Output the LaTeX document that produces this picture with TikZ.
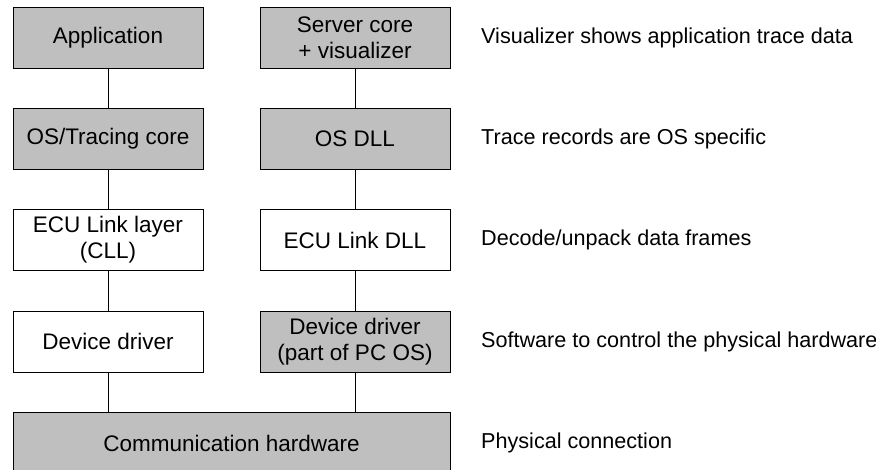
\documentclass[tikz,border=0pt]{standalone}
\usepackage{fontspec}
\setmainfont{Liberation Sans}
\usetikzlibrary{shadows}
\begin{document}
\begin{tikzpicture}[x=1pt,y=-1pt,
  lyr/.style={draw=black, line width=0.8pt, minimum width=190pt, minimum height=61pt,
    inner sep=0pt, align=center, font=\fontsize{22.5}{26}\selectfont,
    drop shadow={shadow xshift=0.9pt, shadow yshift=-0.9pt, fill=black!70, opacity=1}},
  grey/.style={lyr, fill=black!25},
  white/.style={lyr, fill=white},
  note/.style={anchor=west, inner sep=0pt, font=\fontsize{21.6}{26}\selectfont},
  conn/.style={draw=black, line width=0.8pt}]
\useasboundingbox (0,0) rectangle (876,470);
% left column
\node[grey]  (app)  at (108,37.5)  {Application};
\node[grey]  (ostc) at (108,138.5) {OS/Tracing core};
\node[white] (cll)  at (108,240)   {ECU Link layer\\(CLL)};
\node[white] (dd1)  at (108,341.5) {Device driver};
% right column
\node[grey]  (srv)  at (355,37.5)  {Server core\\+ visualizer};
\node[grey]  (osd)  at (355,138.5) {OS DLL};
\node[white] (eld)  at (355,240)   {ECU Link DLL};
\node[grey]  (dd2)  at (355,341.5) {Device driver\\(part of PC OS)};
% bottom
\node[grey, minimum width=437pt, minimum height=62pt] (hw) at (231.5,443) {Communication hardware};
% connectors
\draw[conn] (app) -- (ostc);
\draw[conn] (ostc) -- (cll);
\draw[conn] (cll) -- (dd1);
\draw[conn] (dd1.south) -- (dd1.south |- hw.north);
\draw[conn] (srv) -- (osd);
\draw[conn] (osd) -- (eld);
\draw[conn] (eld) -- (dd2);
\draw[conn] (dd2.south) -- (dd2.south |- hw.north);
% notes
\node[note] (n1) at (481,37.5)  {Visualizer shows application trace data};
\node[note] (n2) at (481,138.5) {Trace records are OS specific};
\node[note] (n3) at (481,240)   {Decode/unpack data frames};
\node[note] (n4) at (481,341.5) {Software to control the physical hardware};
\node[note] (n5) at (481,443)   {Physical connection};
\end{tikzpicture}
\end{document}
